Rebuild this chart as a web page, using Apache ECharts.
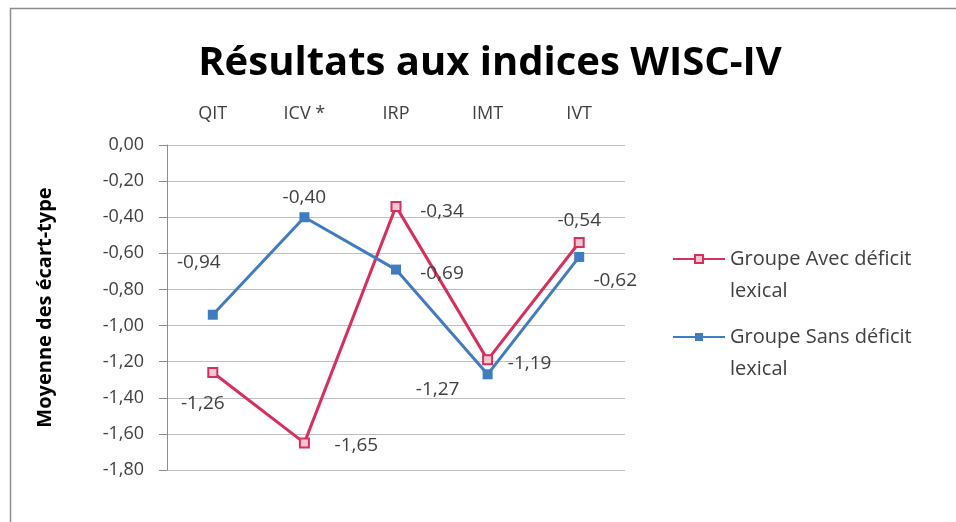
<!DOCTYPE html>
<html><head><meta charset="utf-8">
<script src="https://cdn.jsdelivr.net/npm/echarts@6/dist/echarts.min.js"></script>
<style>html,body{margin:0;padding:0;background:#fff}#c{width:956px;height:522px}</style>
</head><body><div id="c"></div>
<script>
const categories = ['QIT', 'ICV *', 'IRP', 'IMT', 'IVT'];
const avecDeficit = [-1.26, -1.65, -0.34, -1.19, -0.54];
const sansDeficit = [-0.94, -0.40, -0.69, -1.27, -0.62];
const seriesNames = ['Groupe Avec déficit lexical', 'Groupe Sans déficit lexical'];

const fmt = v => v.toFixed(2).replace('.', ',');
const chart = echarts.init(document.getElementById('c'));
const font = '"Open Sans", "Noto Sans", sans-serif';
// label placement offsets per point (style only)
const avecOff = [[-10, 31], [52, 3], [46, 5], [42, 4], [0, -22]];
const sansOff = [[-14, -52], [0, -20], [46, 4], [-50, 15], [36, 24]];
function mk(vals, offs) {
  return vals.map((v, i) => ({ value: v, label: { offset: offs[i] } }));
}
const labelStyle = { show: true, position: 'inside', fontFamily: font, fontSize: 19, color: '#404040', formatter: p => fmt(p.value) };
chart.setOption({
  animation: false,
  graphic: [{ type: 'rect', shape: { x: 10.5, y: 8.5, width: 960, height: 530 }, style: { fill: 'none', stroke: '#8c8c8c', lineWidth: 1.5 } }],
  title: { text: 'Résultats aux indices WISC-IV', left: 485, top: 39, textAlign: 'center',
    textStyle: { fontFamily: font, fontSize: 40, fontWeight: 'bold', color: '#000' } },
  legend: { orient: 'vertical', left: 667, top: 206, itemGap: -18, itemWidth: 52, itemHeight: 10,
    formatter: n => ' \n' + n.replace(' lexical', '\nlexical'),
    textStyle: { fontFamily: font, fontSize: 20, color: '#404040', lineHeight: 32 },
    data: seriesNames },
  grid: { left: 167, right: 331, top: 145, bottom: 52 },
  xAxis: { type: 'category', data: categories, position: 'top', boundaryGap: true,
    axisLine: { show: false }, axisTick: { show: false },
    axisLabel: { fontFamily: font, fontSize: 18, color: '#404040', margin: 22 } },
  yAxis: { type: 'value', min: -1.8, max: 0, interval: 0.2,
    name: 'Moyenne des écart-type', nameLocation: 'middle', nameGap: 112, nameRotate: 90,
    nameTextStyle: { fontFamily: font, fontSize: 20, fontWeight: 'bold', color: '#000' },
    axisLine: { show: true, lineStyle: { color: '#8c8c8c' } },
    axisTick: { show: true, length: 8, lineStyle: { color: '#8c8c8c' } },
    axisLabel: { fontFamily: font, fontSize: 18, color: '#404040', margin: 23, formatter: v => fmt(v) },
    splitLine: { lineStyle: { color: '#bfbfbf' } } },
  series: [
    { name: seriesNames[0], type: 'line', data: mk(avecDeficit, avecOff), symbol: 'rect', symbolSize: 9,
      itemStyle: { color: '#f3c6d2', borderColor: '#d7305c', borderWidth: 2 },
      lineStyle: { width: 3, color: '#d7305c' },
      label: labelStyle },
    { name: seriesNames[1], type: 'line', data: mk(sansDeficit, sansOff), symbol: 'rect', symbolSize: 10,
      itemStyle: { color: '#3f7cc0' },
      lineStyle: { width: 3, color: '#3f7cc0' },
      label: labelStyle }
  ]
});
</script></body></html>
